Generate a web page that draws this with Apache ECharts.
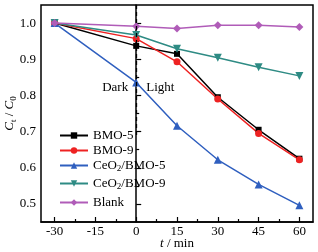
<!DOCTYPE html>
<html><head><meta charset="utf-8">
<script src="https://cdn.jsdelivr.net/npm/echarts@6/dist/echarts.min.js"></script>
<style>html,body{margin:0;padding:0;background:#fff}#c{width:318px;height:252px}</style>
</head><body><div id="c"></div>
<script>
const times = [-30, 0, 15, 30, 45, 60];
const xMajor = [-30, -15, 0, 15, 30, 45, 60];
const xMinor = [-22.5, -7.5, 7.5, 22.5, 37.5, 52.5];
const yMajor = [0.5, 0.6, 0.7, 0.8, 0.9, 1.0];
const yMinor = [0.55, 0.65, 0.75, 0.85, 0.95];
const bmo5 = [1.0, 0.937, 0.915, 0.795, 0.705, 0.625];
const bmo9 = [1.0, 0.957, 0.893, 0.790, 0.695, 0.622];
const ceBmo5 = [1.0, 0.836, 0.716, 0.622, 0.554, 0.496];
const ceBmo9 = [1.0, 0.967, 0.929, 0.904, 0.878, 0.854];
const blank = [1.0, 0.991, 0.985, 0.994, 0.994, 0.989];
const names = ['BMO-5', 'BMO-9', 'CeO2/BMO-5', 'CeO2/BMO-9', 'Blank'];

const F = 'Liberation Serif';
const chart = echarts.init(document.getElementById('c'));
const pair = a => times.map((t, i) => [t, a[i]]);
const mk = (name, data, color, symbol, size, rot) => ({
  name, type: 'line', data: pair(data), color,
  symbol, symbolSize: size, symbolRotate: rot || 0,
  lineStyle: {width: 1.5, color}, itemStyle: {color},
  z: 3
});
const fmt = n => n.startsWith('CeO2') ? '{a|CeO}{s|2}{a|' + n.slice(4) + '}' : '{a|' + n + '}';
const legends = [137, 152, 167, 185, 204].map((y, i) => ({
  data: [names[i]], left: 59, top: y - 8, itemWidth: 28, itemHeight: 8, itemGap: 0,
  padding: 0,
  formatter: fmt,
  textStyle: {fontFamily: F, fontSize: 13, color: '#000',
    rich: {a: {fontFamily: F, fontSize: 13, color: '#000'},
           s: {fontFamily: F, fontSize: 9, color: '#000', padding: [6, 0, 0, 0]}}}
}));
const series = [
  mk('BMO-5', bmo5, '#000000', 'rect', 6),
  mk('BMO-9', bmo9, '#ee2222', 'circle', 7),
  mk('CeO2/BMO-5', ceBmo5, '#2f5fbf', 'triangle', 8),
  mk('CeO2/BMO-9', ceBmo9, '#2e8b84', 'triangle', 8, 180),
  mk('Blank', blank, '#b05cb8', 'diamond', 8)
];
series[0].markLine = {
  silent: true, symbol: 'none', animation: false,
  lineStyle: {type: [4, 3], color: '#000', width: 1.3},
  label: {show: false},
  data: [[{coord: [0, 1.05]}, {coord: [0, 0.69]}]]
};
series[0].markPoint = {
  symbol: 'circle', symbolSize: 0, animation: false,
  label: {fontFamily: F, fontSize: 13, color: '#000'},
  data: [
    {coord: [0, 0.823], label: {position: 'left', distance: 8, formatter: 'Dark'}},
    {coord: [0, 0.823], label: {position: 'right', distance: 10, formatter: 'Light'}}
  ]
};
const baseX = {
  type: 'value', min: -35, max: 65, gridIndex: 0,
  splitLine: {show: false}
};
const baseY = {
  type: 'value', min: 0.45, max: 1.05, gridIndex: 0,
  splitLine: {show: false}
};
chart.setOption({
  animation: false,
  grid: {left: 41, right: 5, top: 5, bottom: 30, containLabel: false, outerBoundsMode: 'none',
    show: true, borderColor: '#000', borderWidth: 1.5, backgroundColor: 'transparent'},
  legend: legends,
  xAxis: [
    Object.assign({}, baseX, {
      position: 'bottom',
      name: '{i|t}{n| / min}', nameLocation: 'middle', nameGap: 15, nameMoveOverlap: false,
      nameTextStyle: {fontFamily: F, fontSize: 13, color: '#000', rich: {
        i: {fontFamily: F, fontStyle: 'italic', fontSize: 13, color: '#000'},
        n: {fontFamily: F, fontSize: 13, color: '#000'}}},
      axisLine: {lineStyle: {color: '#000', width: 1.5}},
      axisTick: {inside: true, length: 5, customValues: xMajor, lineStyle: {color: '#000', width: 1.2}},
      axisLabel: {customValues: xMajor, fontFamily: F, fontSize: 13, color: '#000', margin: 3}
    }),
    Object.assign({}, baseX, {
      position: 'bottom', axisLine: {show: false},
      axisTick: {inside: true, length: 3, customValues: xMinor, lineStyle: {color: '#000', width: 1.2}},
      axisLabel: {show: false}
    })
  ],
  yAxis: [
    Object.assign({}, baseY, {
      position: 'left',
      name: '{i|C}{s|t}{n| / }{i|C}{s|0}', nameLocation: 'middle', nameGap: 23, nameMoveOverlap: false,
      nameTextStyle: {fontFamily: F, fontSize: 13, color: '#000',
        rich: {i: {fontFamily: F, fontStyle: 'italic', fontSize: 13, color: '#000'},
               n: {fontFamily: F, fontSize: 13, color: '#000'},
               s: {fontFamily: F, fontSize: 9, color: '#000', padding: [7, 0, 0, 0]}}},
      axisLine: {lineStyle: {color: '#000', width: 1.5}},
      axisTick: {inside: true, length: 5, customValues: yMajor, lineStyle: {color: '#000', width: 1.2}},
      axisLabel: {customValues: yMajor, fontFamily: F, fontSize: 13, color: '#000', margin: 5,
        formatter: v => v.toFixed(1)}
    }),
    Object.assign({}, baseY, {
      position: 'left', axisLine: {show: false},
      axisTick: {inside: true, length: 3, customValues: yMinor, lineStyle: {color: '#000', width: 1.2}},
      axisLabel: {show: false}
    })
  ],
  series
});
</script></body></html>
